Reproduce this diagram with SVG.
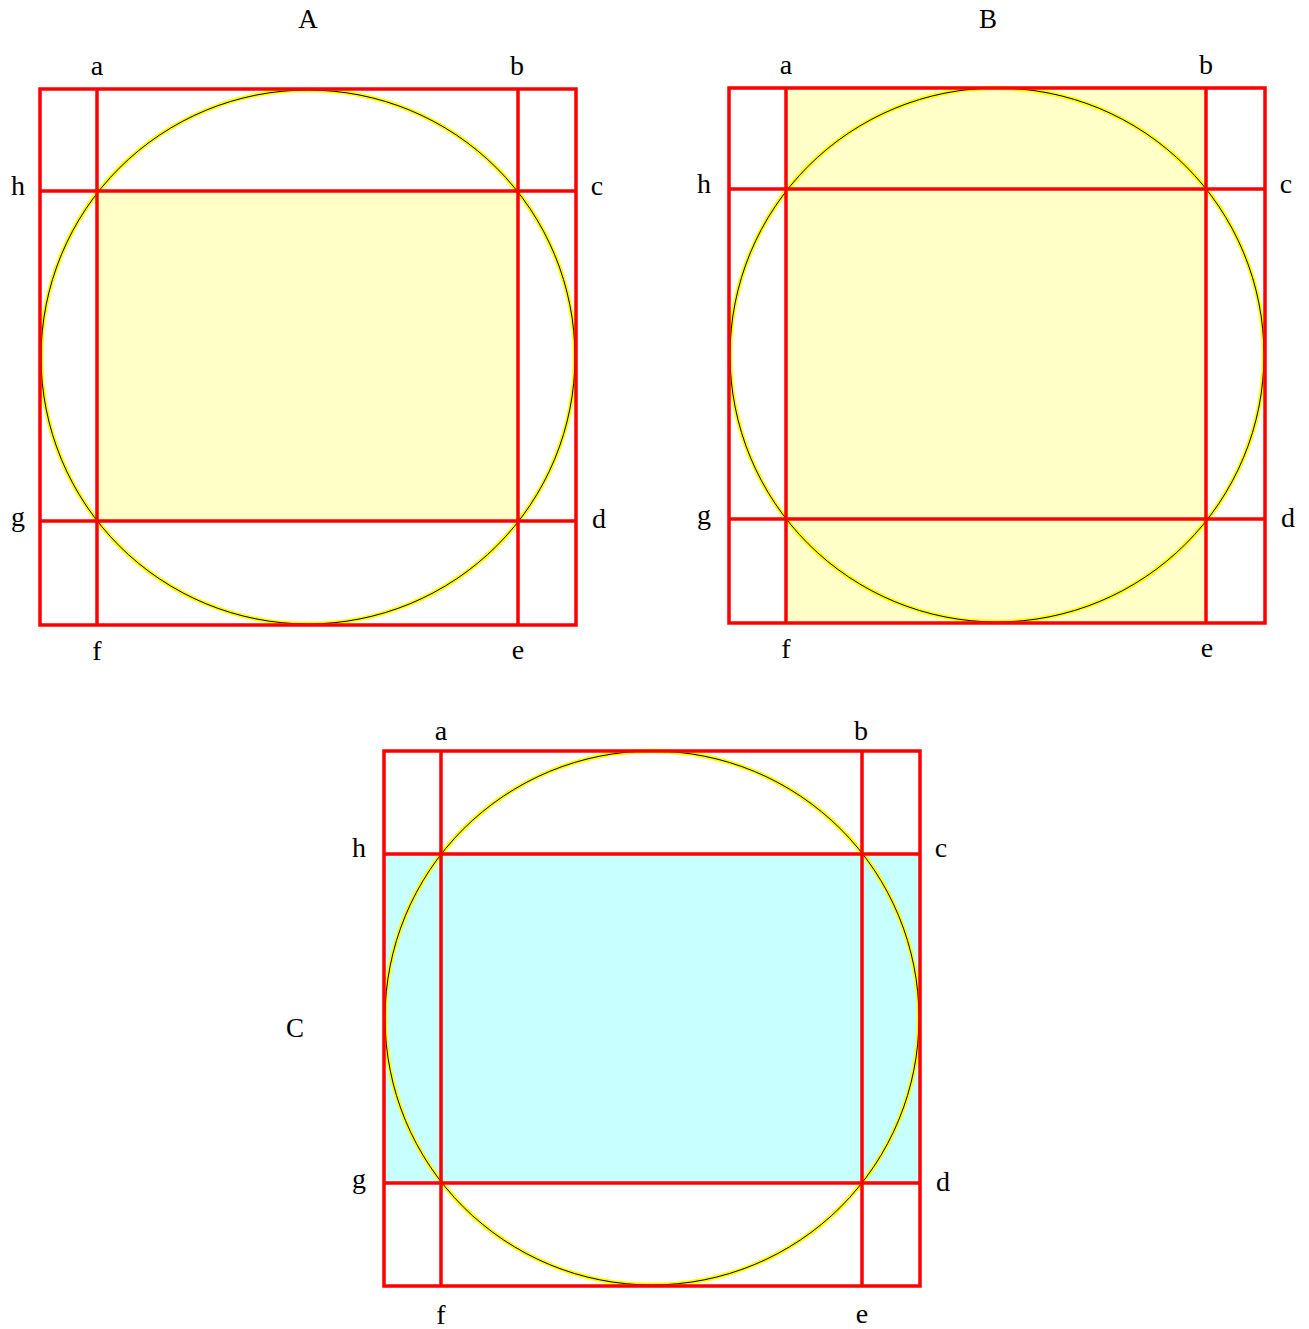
<svg xmlns="http://www.w3.org/2000/svg" width="1309" height="1329" viewBox="0 0 1309 1329">
<style>
.lbl{font-family:"Liberation Serif","Times New Roman",serif;font-size:28px;fill:#000;text-anchor:middle}
.ttl{font-family:"Liberation Serif","Times New Roman",serif;font-size:27px;fill:#000;text-anchor:middle}
.red{stroke:#ff0000;stroke-width:3.5;fill:none}
.cy{stroke:#ffff00;stroke-width:4.5;fill:none}
.ck{stroke:#000;stroke-width:1;fill:none}
.fy{fill:#ffffc8}
.fc{fill:#c8ffff}
</style>
<rect width="1309" height="1329" fill="#fff"/>
<g id="diagramA">
<rect class="fy" x="97" y="191" width="421" height="330"/>
<circle class="cy" cx="308" cy="357" r="267"/>
<circle class="ck" cx="308" cy="357" r="267"/>
<rect class="red" x="40" y="89" width="536" height="536"/>
<line class="red" x1="97" y1="89" x2="97" y2="625"/>
<line class="red" x1="518" y1="89" x2="518" y2="625"/>
<line class="red" x1="40" y1="191" x2="576" y2="191"/>
<line class="red" x1="40" y1="521" x2="576" y2="521"/>
<text class="ttl" x="308" y="28">A</text>
<text class="lbl" x="97" y="75">a</text>
<text class="lbl" x="517" y="75">b</text>
<text class="lbl" x="18" y="195">h</text>
<text class="lbl" x="597" y="195">c</text>
<text class="lbl" x="18" y="526">g</text>
<text class="lbl" x="599" y="528">d</text>
<text class="lbl" x="97" y="660">f</text>
<text class="lbl" x="518" y="659">e</text>
</g>
<g id="diagramB">
<rect class="fy" x="786" y="88" width="420" height="535"/>
<circle class="cy" cx="997" cy="355" r="267"/>
<circle class="ck" cx="997" cy="355" r="267"/>
<rect class="red" x="729" y="88" width="536" height="535"/>
<line class="red" x1="786" y1="88" x2="786" y2="623"/>
<line class="red" x1="1206" y1="88" x2="1206" y2="623"/>
<line class="red" x1="729" y1="189" x2="1265" y2="189"/>
<line class="red" x1="729" y1="519" x2="1265" y2="519"/>
<text class="ttl" x="988" y="28">B</text>
<text class="lbl" x="786" y="74">a</text>
<text class="lbl" x="1206" y="74">b</text>
<text class="lbl" x="704" y="193">h</text>
<text class="lbl" x="1286" y="193">c</text>
<text class="lbl" x="704" y="524">g</text>
<text class="lbl" x="1288" y="527">d</text>
<text class="lbl" x="786" y="658">f</text>
<text class="lbl" x="1207" y="657">e</text>
</g>
<g id="diagramC">
<rect class="fc" x="384" y="854" width="536" height="329"/>
<circle class="cy" cx="652" cy="1018" r="267"/>
<circle class="ck" cx="652" cy="1018" r="267"/>
<rect class="red" x="384" y="751" width="536" height="535"/>
<line class="red" x1="441" y1="751" x2="441" y2="1286"/>
<line class="red" x1="862" y1="751" x2="862" y2="1286"/>
<line class="red" x1="384" y1="854" x2="920" y2="854"/>
<line class="red" x1="384" y1="1183" x2="920" y2="1183"/>
<text class="ttl" x="295" y="1037">C</text>
<text class="lbl" x="441" y="740">a</text>
<text class="lbl" x="861" y="740">b</text>
<text class="lbl" x="359" y="857">h</text>
<text class="lbl" x="941" y="857">c</text>
<text class="lbl" x="359" y="1188">g</text>
<text class="lbl" x="943" y="1191">d</text>
<text class="lbl" x="441" y="1324">f</text>
<text class="lbl" x="862" y="1323">e</text>
</g>
</svg>
